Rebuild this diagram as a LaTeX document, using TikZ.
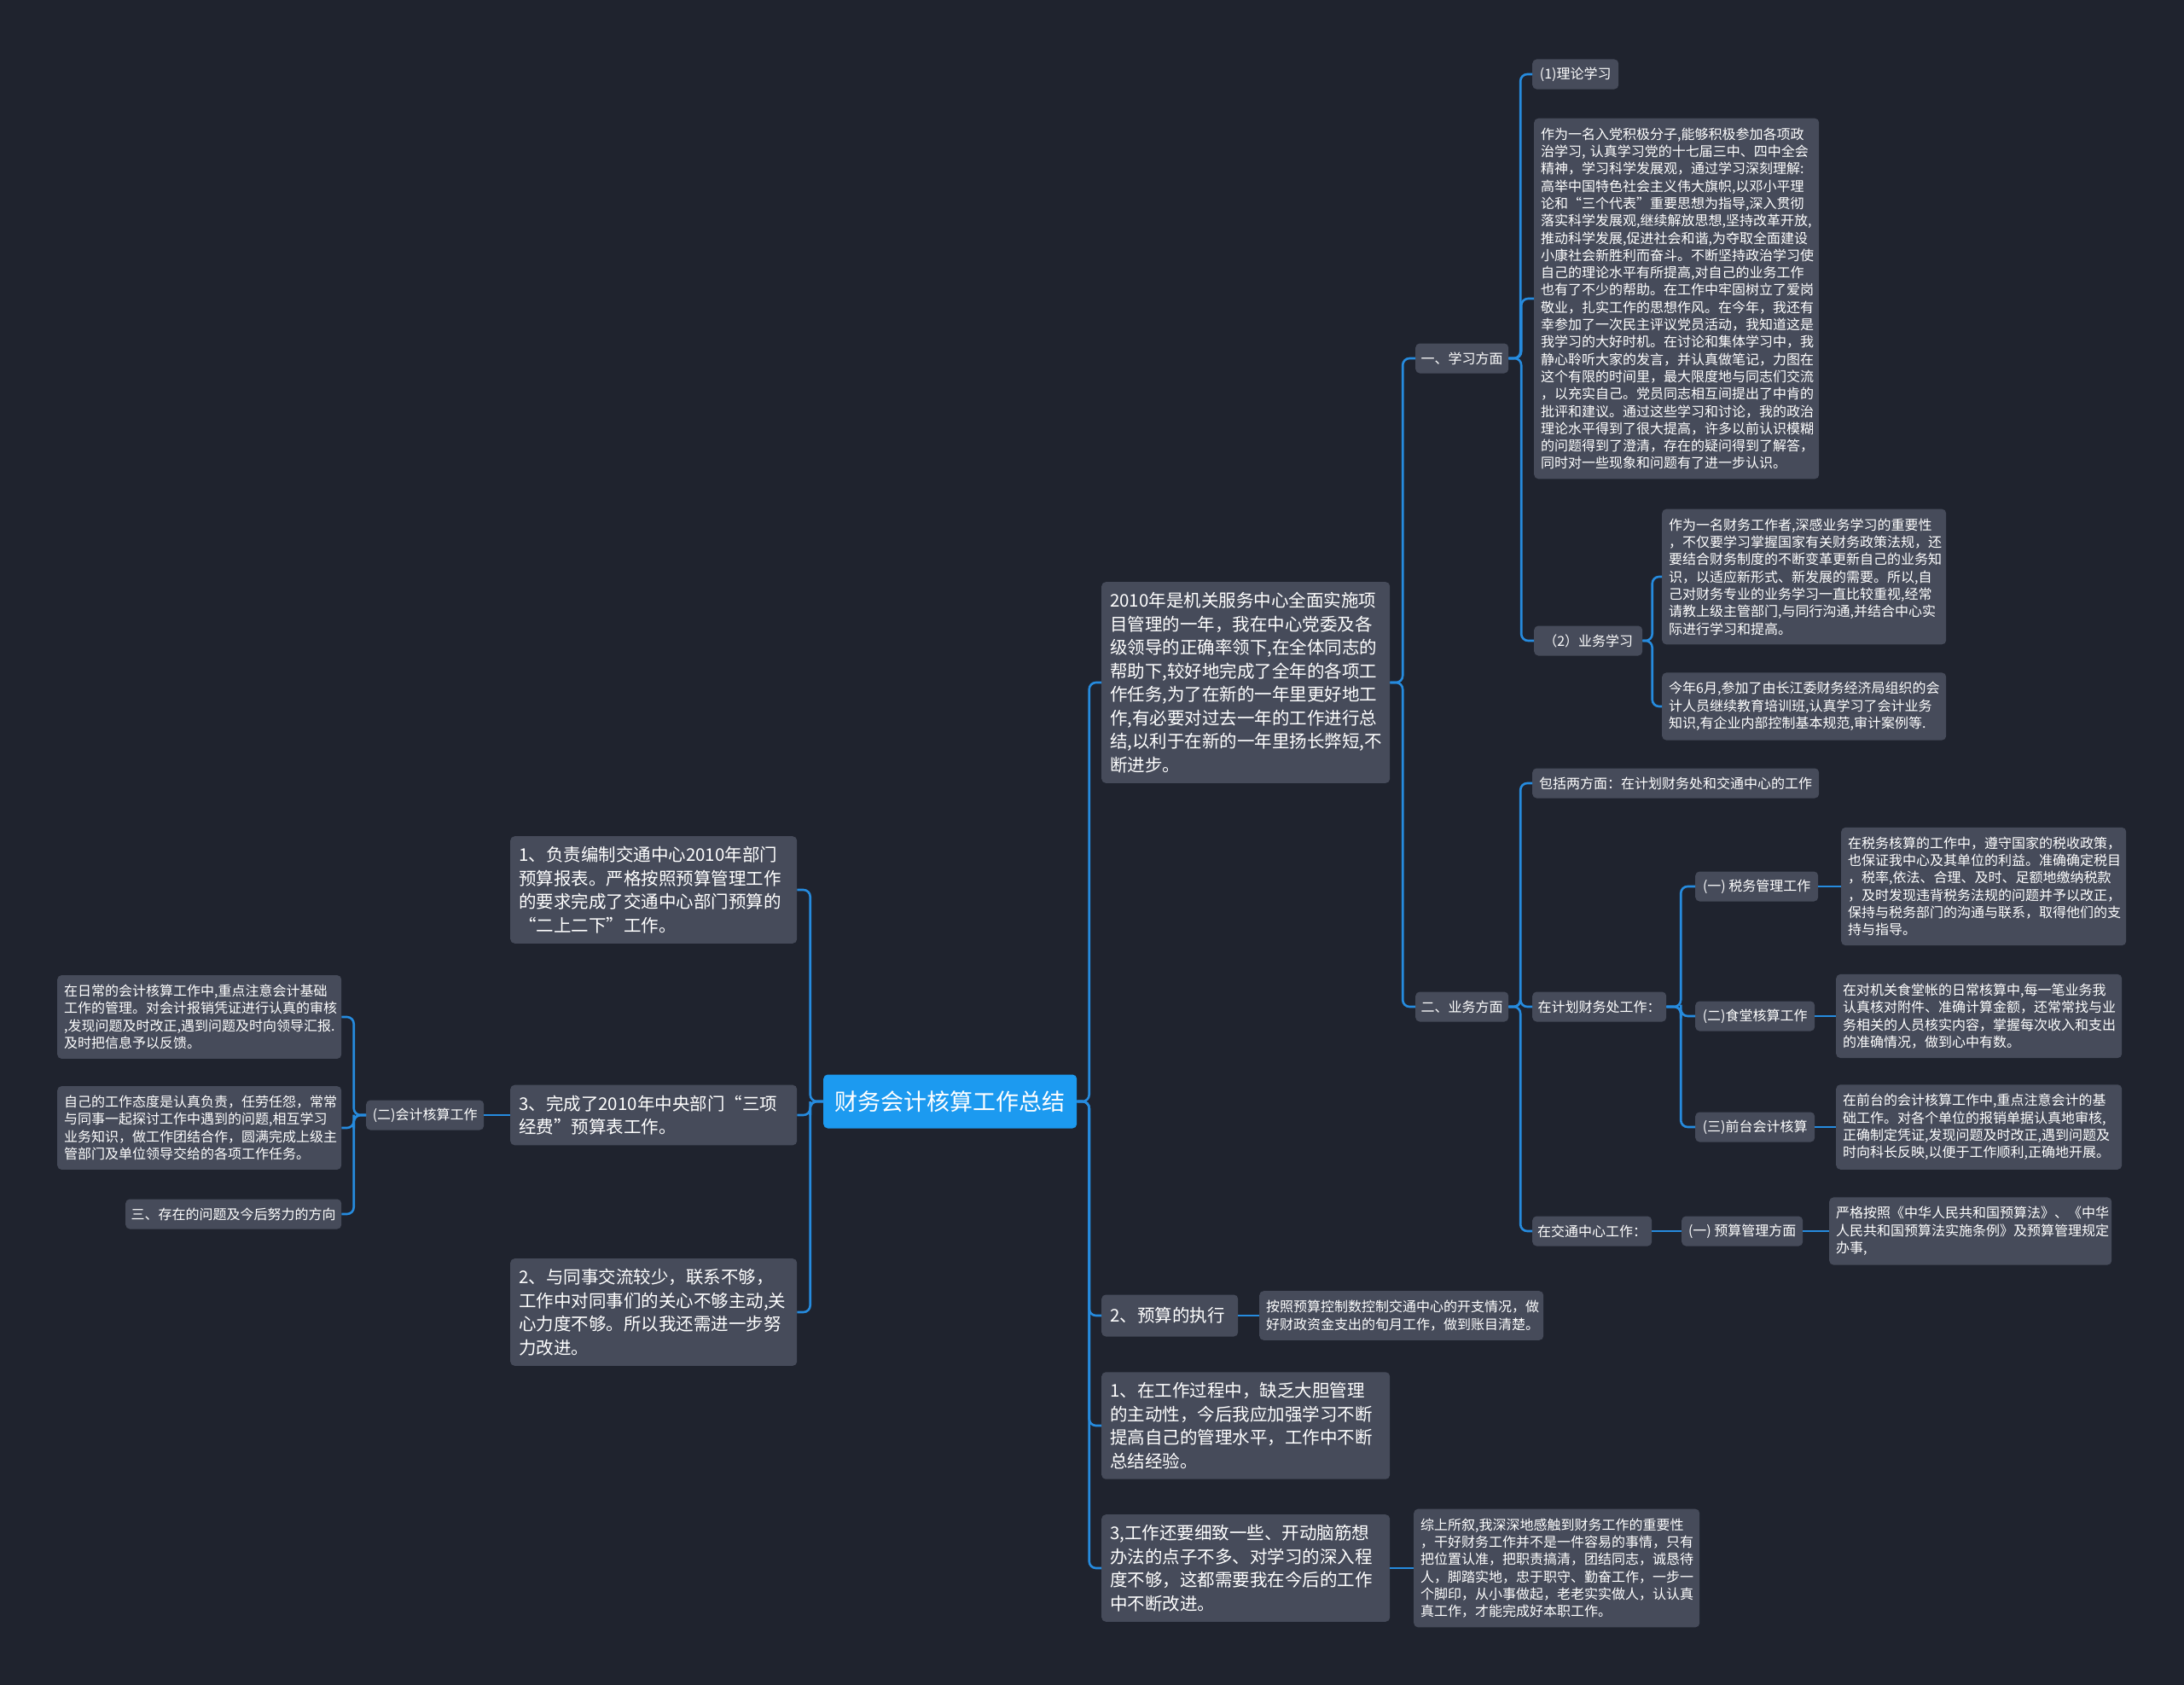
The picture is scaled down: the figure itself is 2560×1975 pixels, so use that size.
\documentclass[tikz,border=0pt]{standalone}
\usepackage{fontspec}
\setmainfont{Noto Sans CJK SC}
\usetikzlibrary{calc}

\definecolor{bgdark}{RGB}{31,35,46}
\definecolor{boxgray}{RGB}{70,75,90}
\definecolor{linkblue}{RGB}{38,139,222}
\definecolor{rootblue}{RGB}{28,154,240}

\newcommand\leafsize{\fontsize{16}{20.3}\selectfont}
\newcommand\topicsize{\fontsize{20.5}{27.5}\selectfont}
\newcommand\rootsize{\fontsize{27}{32}\selectfont}

\begin{document}
\begin{tikzpicture}[x=1pt, y=-1pt,
    box/.style={
        fill=boxgray,
        text=white,
        rounded corners=5pt,
        anchor=west,
        align=left
    },
    leaf/.style={
        box,
        font=\leafsize,
        inner xsep=8pt,
        inner ysep=11pt,
        text width=#1
    },
    topic/.style={
        box,
        font=\topicsize,
        inner xsep=10pt,
        inner ysep=12pt,
        text width=#1
    },
    chip/.style={
        box,
        font=\leafsize,
        inner xsep=6pt,
        inner ysep=0pt,
        minimum height=35pt,
        minimum width=#1,
        align=center
    },
    link/.style={
        draw=linkblue,
        line width=2.6pt,
        rounded corners=8pt,
        to path={-| ($(\tikztostart)!0.5!(\tikztotarget)$) |- (\tikztotarget)}
    }
]

\fill[bgdark] (0,0) rectangle (2560,1975);
\path[use as bounding box] (0,0) rectangle (2560,1975);

% centre
\node[box, font=\rootsize, fill=rootblue, minimum width=297pt,
      minimum height=63pt, align=center] (root) at (965,1291)
{财务会计核算工作总结};

% left side
\node[topic=316pt] (compile) at (598,1043)
{1、负责编制交通中心2010年部门\\
预算报表。严格按照预算管理工作\\
的要求完成了交通中心部门预算的\\
“二上二下”工作。};

\node[topic=316pt] (threefee) at (598,1307)
{3、完成了2010年中央部门“三项\\
经费”预算表工作。};

\node[topic=316pt] (contact) at (598,1538)
{2、与同事交流较少，联系不够，\\
工作中对同事们的关心不够主动,关\\
心力度不够。所以我还需进一步努\\
力改进。};

\node[chip=138pt] (acct) at (429,1307) {(二)会计核算工作};

\node[leaf=317pt] (dailytxt) at (67,1192)
{在日常的会计核算工作中,重点注意会计基础\\
工作的管理。对会计报销凭证进行认真的审核\\
,发现问题及时改正,遇到问题及时向领导汇报.\\
及时把信息予以反馈。};

\node[leaf=317pt] (attitude) at (67,1322)
{自己的工作态度是认真负责，任劳任怨，常常\\
与同事一起探讨工作中遇到的问题,相互学习\\
业务知识，做工作团结合作，圆满完成上级主\\
管部门及单位领导交给的各项工作任务。};

\node[chip=253pt] (problems) at (147,1423) {三、存在的问题及今后努力的方向};

% right side
\node[topic=318pt] (intro) at (1291,800)
{2010年是机关服务中心全面实施项\\
目管理的一年，我在中心党委及各\\
级领导的正确率领下,在全体同志的\\
帮助下,较好地完成了全年的各项工\\
作任务,为了在新的一年里更好地工\\
作,有必要对过去一年的工作进行总\\
结,以利于在新的一年里扬长弊短,不\\
断进步。};

\node[topic=140pt, inner ysep=0pt, minimum height=49pt] (budgetrun) at (1291,1542)
{2、预算的执行};

\node[topic=318pt] (lack) at (1291,1671)
{1、在工作过程中，缺乏大胆管理\\
的主动性，今后我应加强学习不断\\
提高自己的管理水平，工作中不断\\
总结经验。};

\node[topic=318pt] (detail) at (1291,1838)
{3,工作还要细致一些、开动脑筋想\\
办法的点子不多、对学习的深入程\\
度不够，这都需要我在今后的工作\\
中不断改进。};

\node[leaf=317pt] (runleaf) at (1476,1542)
{按照预算控制数控制交通中心的开支情况，做\\
好财政资金支出的旬月工作，做到账目清楚。};

\node[leaf=319pt] (sumup) at (1657,1838)
{综上所叙,我深深地感触到财务工作的重要性\\
，干好财务工作并不是一件容易的事情，只有\\
把位置认准，把职责搞清，团结同志，诚恳待\\
人，脚踏实地，忠于职守、勤奋工作，一步一\\
个脚印，从小事做起，老老实实做人，认认真\\
真工作，才能完成好本职工作。};

\node[chip=109pt] (study) at (1659,420) {一、学习方面};
\node[chip=109pt] (business) at (1659,1180) {二、业务方面};

\node[chip=101pt] (theory) at (1796,87) {(1)理论学习};

\node[leaf=318pt] (theorytxt) at (1798,350)
{作为一名入党积极分子,能够积极参加各项政\\
治学习, 认真学习党的十七届三中、四中全会\\
精神，学习科学发展观，通过学习深刻理解:\\
高举中国特色社会主义伟大旗帜,以邓小平理\\
论和“三个代表”重要思想为指导,深入贯彻\\
落实科学发展观,继续解放思想,坚持改革开放,\\
推动科学发展,促进社会和谐,为夺取全面建设\\
小康社会新胜利而奋斗。不断坚持政治学习使\\
自己的理论水平有所提高,对自己的业务工作\\
也有了不少的帮助。在工作中牢固树立了爱岗\\
敬业，扎实工作的思想作风。在今年，我还有\\
幸参加了一次民主评议党员活动，我知道这是\\
我学习的大好时机。在讨论和集体学习中，我\\
静心聆听大家的发言，并认真做笔记，力图在\\
这个有限的时间里，最大限度地与同志们交流\\
，以充实自己。党员同志相互间提出了中肯的\\
批评和建议。通过这些学习和讨论，我的政治\\
理论水平得到了很大提高，许多以前认识模糊\\
的问题得到了澄清，存在的疑问得到了解答，\\
同时对一些现象和问题有了进一步认识。};

\node[chip=127pt] (bizstudy) at (1798,751) {（2）业务学习};

\node[leaf=317pt] (bizleafa) at (1948,676)
{作为一名财务工作者,深感业务学习的重要性\\
，不仅要学习掌握国家有关财务政策法规，还\\
要结合财务制度的不断变革更新自己的业务知\\
识，以适应新形式、新发展的需要。所以,自\\
己对财务专业的业务学习一直比较重视,经常\\
请教上级主管部门,与同行沟通,并结合中心实\\
际进行学习和提高。};

\node[leaf=317pt] (bizleafb) at (1948,828)
{今年6月,参加了由长江委财务经济局组织的会\\
计人员继续教育培训班,认真学习了会计业务\\
知识,有企业内部控制基本规范,审计案例等.};

\node[chip=336pt] (scope) at (1796,918) {包括两方面：在计划财务处和交通中心的工作};
\node[chip=157pt] (finoffice) at (1796,1180) {在计划财务处工作：};
\node[chip=136pt] (traffic) at (1796,1443) {在交通中心工作：};

\node[chip=144pt] (tax) at (1987,1039) {(一) 税务管理工作};
\node[chip=140pt] (canteen) at (1987,1191) {(二)食堂核算工作};
\node[chip=140pt] (front) at (1987,1321) {(三)前台会计核算};

\node[leaf=318pt] (taxtxt) at (2158,1039)
{在税务核算的工作中，遵守国家的税收政策，\\
也保证我中心及其单位的利益。准确确定税目\\
，税率,依法、合理、及时、足额地缴纳税款\\
，及时发现违背税务法规的问题并予以改正，\\
保持与税务部门的沟通与联系，取得他们的支\\
持与指导。};

\node[leaf=319pt] (canteentxt) at (2152,1191)
{在对机关食堂帐的日常核算中,每一笔业务我\\
认真核对附件、准确计算金额，还常常找与业\\
务相关的人员核实内容，掌握每次收入和支出\\
的准确情况，做到心中有数。};

\node[leaf=319pt] (fronttxt) at (2152,1321)
{在前台的会计核算工作中,重点注意会计的基\\
础工作。对各个单位的报销单据认真地审核,\\
正确制定凭证,发现问题及时改正,遇到问题及\\
时向科长反映,以便于工作顺利,正确地开展。};

\node[chip=142pt] (budgetmgmt) at (1971,1443) {(一) 预算管理方面};

\node[leaf=315pt] (budgettxt) at (2144,1443)
{严格按照《中华人民共和国预算法》、《中华\\
人民共和国预算法实施条例》及预算管理规定\\
办事,};

% connectors, left
\foreach \kid in {compile,threefee,contact}
    \draw[link] (root.west) to (\kid.east);
\draw[link] (threefee.west) -- (acct.east);
\foreach \kid in {dailytxt,attitude,problems}
    \draw[link] (acct.west) to (\kid.east);

% connectors, right
\foreach \kid in {intro,budgetrun,lack,detail}
    \draw[link] (root.east) to (\kid.west);
\draw[link] (budgetrun.east) -- (runleaf.west);
\draw[link] (detail.east) -- (sumup.west);
\foreach \kid in {study,business}
    \draw[link] (intro.east) to (\kid.west);
\foreach \kid in {theory,theorytxt,bizstudy}
    \draw[link] (study.east) to (\kid.west);
\foreach \kid in {bizleafa,bizleafb}
    \draw[link] (bizstudy.east) to (\kid.west);
\foreach \kid in {scope,finoffice,traffic}
    \draw[link] (business.east) to (\kid.west);
\foreach \kid in {tax,canteen,front}
    \draw[link] (finoffice.east) to (\kid.west);
\draw[link] (tax.east) -- (taxtxt.west);
\draw[link] (canteen.east) -- (canteentxt.west);
\draw[link] (front.east) -- (fronttxt.west);
\draw[link] (traffic.east) -- (budgetmgmt.west);
\draw[link] (budgetmgmt.east) -- (budgettxt.west);
\end{tikzpicture}
\end{document}
